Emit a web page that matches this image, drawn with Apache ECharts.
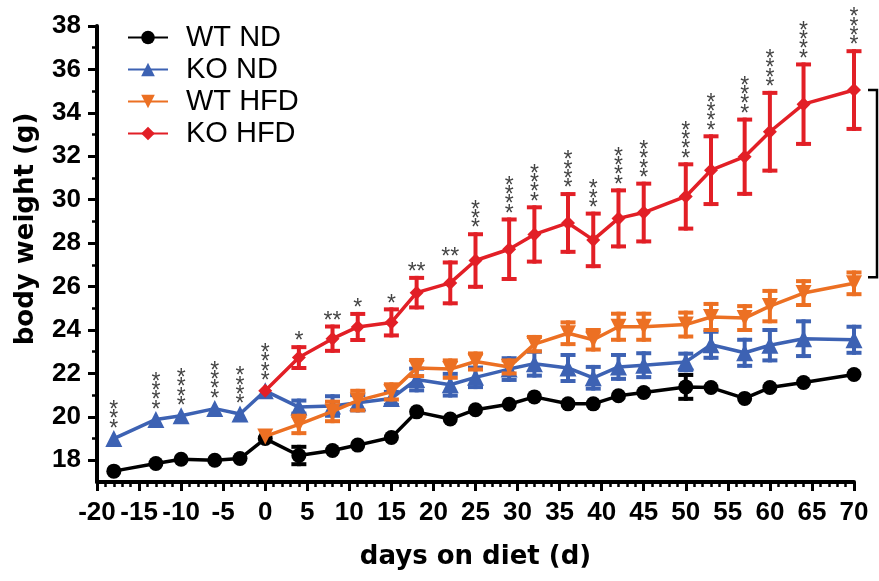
<!DOCTYPE html>
<html><head><meta charset="utf-8">
<script src="https://cdn.jsdelivr.net/npm/echarts@6/dist/echarts.min.js"></script>
<style>html,body{margin:0;padding:0;background:#fff}#c{width:879px;height:581px}</style>
</head><body><div id="c"></div>
<script>
const days = [-18,-13,-10,-6,-3,0,4,8,11,15,18,22,25,29,32,36,39,42,45,50,53,57,60,64,70];
const seriesNames = ['WT ND','KO ND','WT HFD','KO HFD'];
const wtND = [17.5,17.85,18.05,18.0,18.08,19.0,18.22,18.45,18.7,19.05,20.23,19.9,20.33,20.58,20.92,20.6,20.6,20.97,21.12,21.38,21.35,20.85,21.35,21.58,21.95];
const wtNDErr = [0,0,0,0,0,0,0.4,0,0,0,0,0,0,0,0,0,0,0,0,0.55,0,0,0,0,0];
const koND = [19.0,19.88,20.05,20.38,20.13,21.2,20.45,20.5,20.65,20.85,21.72,21.48,21.82,22.2,22.45,22.25,21.8,22.3,22.38,22.53,23.32,22.95,23.3,23.6,23.55];
const koNDErr = [0,0,0,0,0,0,0.3,0.45,0.35,0.3,0.5,0.5,0.45,0.5,0.55,0.6,0.5,0.55,0.55,0.38,0.6,0.6,0.7,0.8,0.6];
const wtHFD = [null,null,null,null,null,19.1,19.65,20.25,20.75,21.15,22.25,22.2,22.55,22.3,23.35,23.85,23.55,24.15,24.15,24.25,24.6,24.55,25.1,25.7,26.15];
const wtHFDErr = [null,null,null,null,null,0,0.4,0.45,0.45,0.35,0.37,0.4,0.37,0.3,0.33,0.5,0.45,0.6,0.6,0.55,0.6,0.55,0.7,0.55,0.5];
const koHFD = [null,null,null,null,null,21.2,22.73,23.6,24.14,24.35,25.72,26.17,27.2,27.72,28.4,28.93,28.15,29.14,29.41,30.15,31.36,31.98,33.13,34.4,35.05];
const koHFDErr = [null,null,null,null,null,0,0.48,0.56,0.6,0.6,0.68,0.94,1.21,1.37,1.25,1.33,1.21,1.29,1.33,1.48,1.56,1.71,1.79,1.83,1.79];
const sigStars = ['***','****','****','****','****','****','*','**','*','*','**','**','***','****','****','****','***','****','****','****','****','****','****','****','****'];
const yMajorTicks = [18,20,22,24,26,28,30,32,34,36,38];

const colors = ['#000000','#3d62b3','#ec7023','#e21f26'];
const means = [wtND, koND, wtHFD, koHFD];
const errs = [wtNDErr, koNDErr, wtHFDErr, koHFDErr];
const symbols = ['circle','triangle','triangle','diamond'];
const symbolSizes = [15,17,16,14];
const symbolRot = [0,0,180,0];

function errRender(color){
  return function(params, api){
    const x = api.value(0), m = api.value(1), e = api.value(2);
    const t = api.coord([x, m + e]), b = api.coord([x, m - e]);
    const hw = 7.5;
    const st = {stroke: color, lineWidth: 4, fill: null};
    return {type:'group', children:[
      {type:'line', shape:{x1:t[0], y1:t[1]-2, x2:b[0], y2:b[1]+2}, style: st},
      {type:'line', shape:{x1:t[0]-hw, y1:t[1], x2:t[0]+hw, y2:t[1]}, style: st},
      {type:'line', shape:{x1:b[0]-hw, y1:b[1], x2:b[0]+hw, y2:b[1]}, style: st}
    ]};
  };
}

const series = [];
for (let k = 0; k < 4; k++) {
  const errData = [];
  const lineData = [];
  days.forEach((d, i) => {
    if (means[k][i] == null) return;
    lineData.push([d, means[k][i]]);
    if (errs[k][i] > 0) errData.push([d, means[k][i], errs[k][i]]);
  });
  series.push({
    name: seriesNames[k] + ' SEM', type: 'custom', z: 2 + k, silent: true,
    renderItem: errRender(colors[k]), encode: {x: 0, y: 1}, data: errData
  });
  series.push({
    name: seriesNames[k], type: 'line', z: 2 + k, data: lineData,
    symbol: symbols[k], symbolSize: symbolSizes[k], symbolRotate: symbolRot[k], showAllSymbol: true,
    lineStyle: {color: colors[k], width: 3.5}, itemStyle: {color: colors[k]},
    emphasis: {disabled: true}, animation: false
  });
}

// significance stars
const sigData = days.map((d, i) => {
  const onRed = koHFDErr[i] != null && koHFDErr[i] > 0;
  const base = onRed ? koHFD[i] + koHFDErr[i] : koND[i];
  const multi = sigStars[i].length >= 3;
  return {
    value: [d, base],
    name: multi ? sigStars[i].split('').join('\n') : sigStars[i],
    label: {distance: onRed ? 0 : 4}
  };
});
series.push({
  name: 'sig', type: 'scatter', z: 10, silent: true, symbolSize: 1,
  itemStyle: {color: 'rgba(0,0,0,0)'}, data: sigData,
  label: {show: true, position: 'top', formatter: '{b}', color: '#111',
    fontFamily: 'Liberation Sans', fontSize: 23, lineHeight: 9.3}
});

// bracket between KO HFD and WT HFD at the last day
const lastI = days.length - 1;
series.push({
  name: 'bracket', type: 'custom', z: 10, silent: true, clip: false,
  encode: {x: 0, y: 1},
  data: [[days[lastI], koHFD[lastI], wtHFD[lastI]]],
  renderItem: function(params, api){
    const p1 = api.coord([api.value(0), api.value(1)]);
    const p2 = api.coord([api.value(0), api.value(2)]);
    const x0 = p1[0] + 14, x1 = p1[0] + 23;
    return {type:'polyline', shape:{points:[[x0,p1[1]],[x1,p1[1]],[x1,p2[1]-6],[x0,p2[1]-6]]},
      style:{stroke:'#000', lineWidth:2.5, fill:null}};
  }
});

const chart = echarts.init(document.getElementById('c'), null, {renderer: 'canvas'});
chart.setOption({
  animation: false,
  backgroundColor: '#fff',
  grid: {left: 97, right: 25, top: 26, bottom: 99, containLabel: false},
  legend: {
    data: seriesNames, orient: 'vertical', left: 122, top: 18,
    itemWidth: 40, itemHeight: 17, itemGap: 3,
    textStyle: {fontFamily: 'Liberation Sans', fontSize: 29, color: '#000', lineHeight: 20, padding: [0,0,0,13]}
  },
  xAxis: {
    type: 'value', min: -20, max: 70, interval: 5,
    name: 'days on diet (d)', nameLocation: 'middle', nameGap: 62,
    nameTextStyle: {fontFamily: 'DejaVu Sans', fontWeight: 'bold', fontSize: 26, color: '#000'},
    axisLine: {show: true, onZero: false, lineStyle: {color: '#000', width: 4}},
    axisTick: {show: true, length: 9, lineStyle: {color: '#000', width: 3}},
    minorTick: {show: true, splitNumber: 5, length: 5, lineStyle: {color: '#000', width: 2.5}},
    axisLabel: {fontFamily: 'Liberation Sans', fontWeight: 'bold', fontSize: 26, color: '#000', margin: 18},
    splitLine: {show: false}
  },
  yAxis: {
    type: 'value', min: 17, max: 38, minInterval: 2, maxInterval: 2, splitNumber: 10,
    name: 'body weight (g)', nameLocation: 'middle', nameGap: 58,
    nameTextStyle: {fontFamily: 'DejaVu Sans', fontWeight: 'bold', fontSize: 26, color: '#000', padding: [0,0,0,50]},
    axisLine: {show: true, onZero: false, lineStyle: {color: '#000', width: 4}},
    axisTick: {show: true, length: 9, lineStyle: {color: '#000', width: 3}, customValues: yMajorTicks},
    minorTick: {show: true, splitNumber: 2, length: 5, lineStyle: {color: '#000', width: 2.5}},
    axisLabel: {fontFamily: 'Liberation Sans', fontWeight: 'bold', fontSize: 26, color: '#000', margin: 16,
      customValues: yMajorTicks},
    splitLine: {show: false}
  },
  series: series
});
</script>
</body></html>
